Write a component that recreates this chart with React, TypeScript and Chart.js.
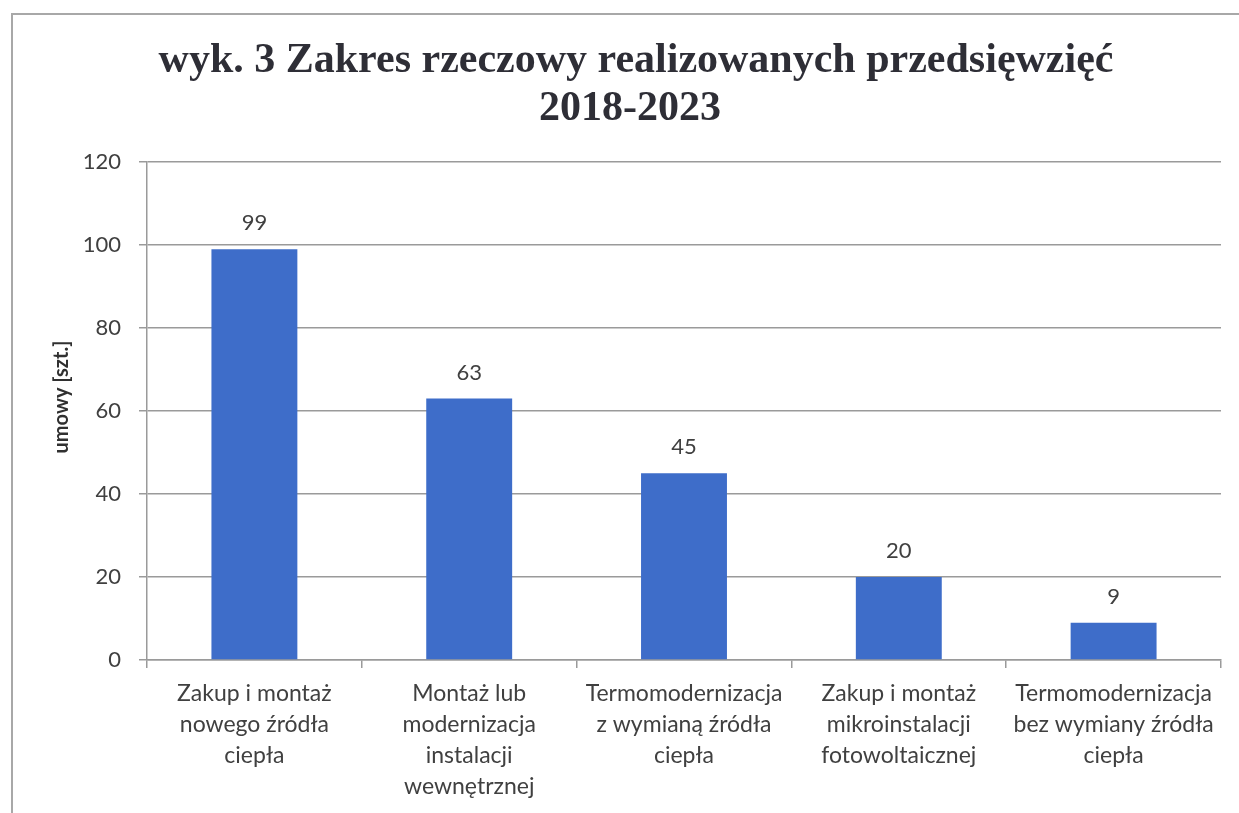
import React, { useEffect, useRef } from "react";
import { Chart, registerables } from "chart.js";

Chart.register(...registerables);

const titleLines = ["wyk. 3 Zakres rzeczowy realizowanych przedsięwzięć", "2018-2023"];
const categories = [
  ["Zakup i montaż", "nowego źródła", "ciepła"],
  ["Montaż lub", "modernizacja", "instalacji", "wewnętrznej"],
  ["Termomodernizacja", "z wymianą źródła", "ciepła"],
  ["Zakup i montaż", "mikroinstalacji", "fotowoltaicznej"],
  ["Termomodernizacja", "bez wymiany źródła", "ciepła"],
];
const values = [99, 63, 45, 20, 9];
const yAxisTitle = "umowy [szt.]";
const yMin = 0;
const yMax = 120;
const yStep = 20;

const W = 1239;
const H = 813;
const SANS = "Lato, 'Open Sans', sans-serif";
const TEXT = "#404040";
const GRID = "#9a9a9a";
const BAR = "#3e6dc9";

const framePlugin = {
  id: "frame",
  beforeDraw(chart: any) {
    const ctx = chart.ctx;
    ctx.save();
    ctx.fillStyle = "#ffffff";
    ctx.fillRect(0, 0, chart.width, chart.height);
    ctx.strokeStyle = "#a8a8a8";
    ctx.lineWidth = 2;
    ctx.beginPath();
    ctx.moveTo(12, chart.height);
    ctx.lineTo(12, 14);
    ctx.lineTo(chart.width, 14);
    ctx.stroke();
    // title
    ctx.fillStyle = "#2e2e36";
    ctx.font = "bold 42px 'Liberation Serif', 'Times New Roman', serif";
    ctx.textAlign = "center";
    ctx.textBaseline = "alphabetic";
    ctx.fillText(titleLines[0], 636, 72);
    ctx.fillText(titleLines[1], 630, 120);
    // y axis title
    ctx.save();
    ctx.translate(68, 397);
    ctx.rotate(-Math.PI / 2);
    ctx.fillStyle = "#303030";
    ctx.font = `bold 20px ${SANS}`;
    ctx.textAlign = "center";
    ctx.textBaseline = "alphabetic";
    ctx.fillText(yAxisTitle, 0, 0);
    ctx.restore();
    ctx.restore();
  },
};

const valueLabelPlugin = {
  id: "valueLabels",
  afterDatasetsDraw(chart: any) {
    const ctx = chart.ctx;
    const meta = chart.getDatasetMeta(0);
    ctx.save();
    ctx.fillStyle = TEXT;
    ctx.font = `22px ${SANS}`;
    ctx.textAlign = "center";
    ctx.textBaseline = "middle";
    meta.data.forEach((bar: any, i: number) => {
      ctx.fillText(String(values[i]), bar.x, bar.y - 26);
    });
    ctx.restore();
  },
};

export default function App() {
  const ref = useRef<HTMLCanvasElement | null>(null);
  useEffect(() => {
    if (!ref.current) return;
    const chart = new Chart(ref.current, {
      type: "bar",
      data: {
        labels: categories,
        datasets: [
          {
            data: values,
            backgroundColor: BAR,
            borderWidth: 0,
            barPercentage: 1,
            categoryPercentage: 0.4,
          },
        ],
      },
      options: {
        responsive: false,
        animation: false,
        devicePixelRatio: 1,
        layout: { padding: { top: 162, left: 0, right: 18, bottom: 0 } },
        plugins: {
          legend: { display: false },
          title: { display: false },
          tooltip: { enabled: false },
        },
        scales: {
          x: {
            grid: {
              display: true,
              drawOnChartArea: false,
              drawTicks: true,
              tickLength: 8,
              color: GRID,
              lineWidth: 1.5,
              offset: true,
            },
            border: { display: true, color: GRID, width: 1.5 },
            ticks: {
              color: TEXT,
              font: { family: SANS, size: 23, lineHeight: 1.35 },
              maxRotation: 0,
              autoSkip: false,
              padding: 10,
            },
            afterFit(scale: any) {
              scale.height = 153;
            },
          },
          y: {
            min: yMin,
            max: yMax,
            grid: {
              color: GRID,
              lineWidth: 1.5,
              drawTicks: true,
              tickLength: 8,
            },
            border: { display: true, color: GRID, width: 1.5 },
            ticks: {
              stepSize: yStep,
              color: TEXT,
              font: { family: SANS, size: 22 },
              padding: 18,
            },
            title: { display: false },
            afterFit(scale: any) {
              scale.width = 147;
            },
          },
        },
      },
      plugins: [framePlugin, valueLabelPlugin],
    });
    return () => chart.destroy();
  }, []);
  return (
    <div style={{ position: "fixed", left: 0, top: 0, width: W, height: H, background: "#fff" }}>
      <canvas ref={ref} width={W} height={H} style={{ width: W, height: H, display: "block" }} />
    </div>
  );
}
